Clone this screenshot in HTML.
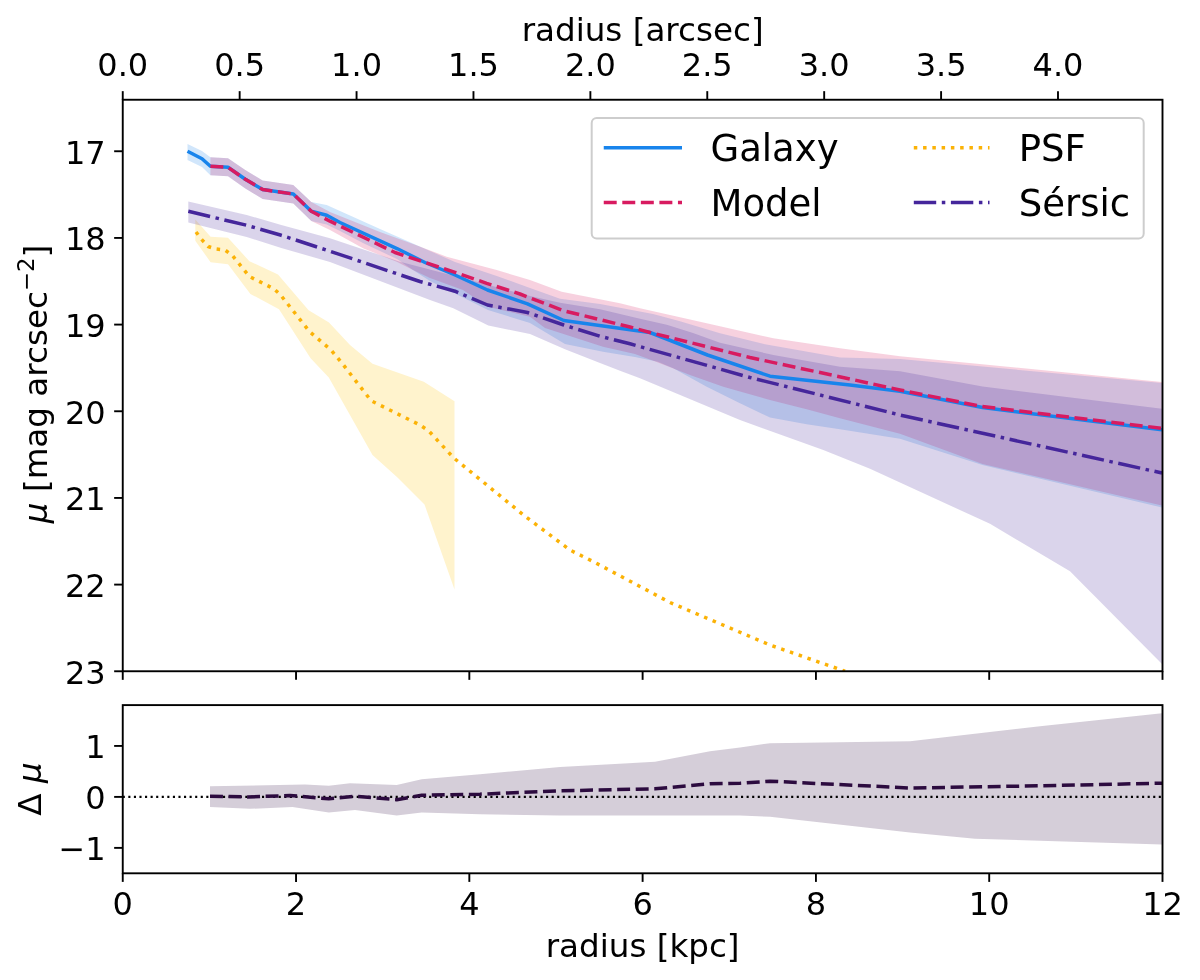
<!DOCTYPE html>
<html lang="en"><head><meta charset="utf-8"><title>Surface brightness profile</title>
<style>html,body{margin:0;padding:0;background:#fff}body{width:1200px;height:980px;overflow:hidden}svg{display:block}text{font-family:"DejaVu Sans","Liberation Sans",sans-serif;fill:#000}.it{font-family:"DejaVu Sans","Liberation Sans",sans-serif;font-style:italic}</style>
</head><body>
<svg width="1200" height="980" viewBox="0 0 1200 980">
<rect width="1200" height="980" fill="#fff"/>
<defs><clipPath id="ct"><rect x="122.75" y="99.75" width="1039.75" height="571.50"/></clipPath><clipPath id="cb"><rect x="122.75" y="705.10" width="1039.75" height="168.20"/></clipPath></defs>
<g clip-path="url(#ct)">
<polygon points="187.5,144.0 202.0,151.0 210.4,157.3 228.0,158.3 245.3,170.0 262.7,180.5 293.3,185.0 311.3,202.0 326.7,205.0 340.0,211.0 380.0,229.0 405.0,240.0 455.0,262.0 496.7,276.0 530.0,288.0 560.0,298.7 600.0,304.0 653.0,314.0 680.0,321.3 720.0,333.3 765.0,344.2 840.0,357.5 900.0,359.0 1162.0,383.0 1162.0,507.5 982.5,465.0 900.0,438.8 840.0,429.2 806.7,424.2 770.0,417.5 740.0,403.3 706.7,386.7 673.3,368.3 658.0,361.7 635.0,357.0 603.0,351.7 565.0,344.0 530.0,323.0 488.0,310.0 430.0,281.0 413.0,270.0 397.0,259.0 363.0,243.0 340.0,231.0 326.7,224.5 311.3,221.0 293.3,203.5 262.7,199.0 245.3,188.5 228.0,176.3 210.4,175.3 202.0,167.0 187.5,160.0" fill="#1884EC" fill-opacity="0.2"/>
<polygon points="210.4,157.3 228.0,158.3 245.3,170.0 262.7,180.5 293.3,185.0 311.3,202.0 330.0,212.0 380.0,232.0 413.0,244.0 446.7,256.7 496.7,270.0 530.0,280.0 561.7,291.7 620.0,303.3 640.0,308.3 706.7,323.3 773.3,338.3 840.0,348.3 900.0,356.2 1162.0,382.0 1162.0,505.5 982.5,464.0 900.0,433.8 840.0,418.3 806.7,409.2 770.0,400.0 723.3,386.7 690.0,375.0 656.7,362.0 635.0,354.0 603.0,346.7 545.0,328.0 530.0,316.7 488.0,306.7 463.0,290.0 430.0,278.0 413.0,270.0 396.7,261.7 363.0,248.3 330.0,230.0 311.3,221.0 293.3,203.5 262.7,199.0 245.3,188.5 228.0,176.3 210.4,175.3" fill="#D81B60" fill-opacity="0.2"/>
<polygon points="195.3,219.4 210.6,236.7 228.0,237.8 249.4,261.2 278.0,274.5 308.6,310.2 329.0,322.4 350.0,345.0 372.5,363.8 423.8,381.8 454.5,401.2 454.5,589.4 424.5,504.5 397.5,477.5 372.5,455.0 328.8,377.5 310.6,358.2 279.0,309.2 250.4,293.9 228.0,264.3 210.6,262.2 195.3,240.8" fill="#FFC107" fill-opacity="0.2"/>
<polygon points="188.3,201.5 246.7,215.0 281.3,225.0 330.0,238.3 400.0,261.7 463.3,278.3 530.0,296.0 560.0,302.7 600.0,309.3 640.0,318.7 666.7,324.7 693.0,333.0 720.0,342.7 773.3,355.0 840.0,366.7 900.0,371.2 982.5,386.5 1162.0,408.8 1162.0,664.0 1070.0,571.2 990.0,523.8 870.0,468.8 823.3,450.0 740.0,420.0 640.0,378.3 620.0,370.8 600.0,363.0 565.0,349.2 530.0,334.0 488.3,325.5 453.3,308.3 430.0,300.0 380.0,281.0 330.0,262.0 281.3,248.0 246.7,237.0 188.3,222.4" fill="#45269B" fill-opacity="0.2"/>
<polyline points="187.5,151.3 202.0,158.7 210.4,166.3 228.0,167.3 245.3,179.3 262.7,189.6 293.3,194.0 311.3,211.3 326.7,215.3 340.0,222.5 397.5,248.8 425.0,262.5 455.0,275.0 487.5,290.0 527.5,303.8 563.8,320.5 605.0,326.2 650.0,332.5 707.5,355.0 770.0,376.2 850.0,385.0 900.0,391.2 982.5,407.5 1162.0,429.7" fill="none" stroke="#1884EC" stroke-width="3.50" stroke-linejoin="round"/>
<polyline points="210.4,166.3 228.0,167.3 245.3,179.3 262.7,189.6 293.3,194.0 311.3,211.3 330.0,221.2 395.0,252.5 425.0,262.5 455.0,272.3 486.7,283.3 520.0,294.0 553.0,306.7 563.8,310.8 630.0,327.0 650.0,332.5 750.0,357.5 850.0,379.0 900.0,390.0 982.0,406.5 1162.0,428.3" fill="none" stroke="#D81B60" stroke-width="3.50" stroke-linejoin="round" stroke-dasharray="12.95 5.60"/>
<polyline points="196.0,232.0 201.4,239.2 208.2,246.5 215.7,249.0 225.0,250.0 232.0,255.1 249.4,276.5 273.9,288.8 280.0,294.3 309.6,331.6 331.0,350.0 342.5,363.8 371.2,400.8 420.0,425.0 428.8,431.0 453.8,458.0 525.0,516.2 570.0,550.0 595.0,562.5 670.0,602.5 770.0,645.0 845.0,671.2" fill="none" stroke="#FBB206" stroke-width="3.50" stroke-linejoin="round" stroke-dasharray="3.50 5.77"/>
<polyline points="188.3,211.3 246.7,225.3 281.3,235.3 330.0,251.2 420.0,281.5 455.0,291.2 487.5,305.0 527.5,312.5 563.8,325.0 600.0,336.2 630.0,343.8 750.0,377.5 900.0,415.0 1162.0,473.0" fill="none" stroke="#45269B" stroke-width="3.50" stroke-linejoin="round" stroke-dasharray="22.40 5.60 3.50 5.60"/>
</g>
<g clip-path="url(#cb)">
<polygon points="210.0,786.2 305.0,784.5 328.8,785.8 350.0,783.2 396.7,785.0 421.7,779.2 480.0,774.2 560.0,767.0 655.0,761.8 710.0,751.2 740.0,747.5 770.0,743.2 910.0,741.2 1040.0,726.2 1162.0,713.2 1162.0,844.5 1040.0,840.8 975.0,838.8 910.0,832.5 770.0,816.8 740.0,815.5 560.0,815.5 480.0,814.2 421.7,812.5 396.7,815.6 355.0,810.0 328.8,812.5 292.5,807.0 250.0,808.8 210.0,807.0" fill="#2C0B3F" fill-opacity="0.2"/>
<line x1="122.75" y1="796.90" x2="1162.50" y2="796.90" stroke="#000" stroke-width="2.1" stroke-dasharray="2.1 3.47"/>
<polyline points="210.0,796.2 247.5,797.0 290.0,795.5 328.8,798.8 355.0,796.2 396.7,799.7 421.7,795.3 480.0,794.2 560.0,790.8 655.0,788.8 710.0,783.8 740.0,783.2 770.0,781.2 910.0,788.0 1040.0,785.8 1162.0,783.2" fill="none" stroke="#2C0B3F" stroke-width="3.50" stroke-linejoin="round" stroke-dasharray="12.95 5.60"/>
</g>
<g fill="none" stroke="#000" stroke-width="1.90" stroke-linecap="square">
<rect x="122.75" y="99.75" width="1039.75" height="571.50"/>
<rect x="122.75" y="705.10" width="1039.75" height="168.20"/>
</g>
<g stroke="#000" stroke-width="1.90">
<line x1="122.75" y1="99.75" x2="122.75" y2="91.15"/>
<line x1="239.66" y1="99.75" x2="239.66" y2="91.15"/>
<line x1="356.56" y1="99.75" x2="356.56" y2="91.15"/>
<line x1="473.47" y1="99.75" x2="473.47" y2="91.15"/>
<line x1="590.37" y1="99.75" x2="590.37" y2="91.15"/>
<line x1="707.27" y1="99.75" x2="707.27" y2="91.15"/>
<line x1="824.18" y1="99.75" x2="824.18" y2="91.15"/>
<line x1="941.09" y1="99.75" x2="941.09" y2="91.15"/>
<line x1="1057.99" y1="99.75" x2="1057.99" y2="91.15"/>
<line x1="122.75" y1="671.25" x2="122.75" y2="679.85"/>
<line x1="122.75" y1="873.30" x2="122.75" y2="881.90"/>
<line x1="296.04" y1="671.25" x2="296.04" y2="679.85"/>
<line x1="296.04" y1="873.30" x2="296.04" y2="881.90"/>
<line x1="469.33" y1="671.25" x2="469.33" y2="679.85"/>
<line x1="469.33" y1="873.30" x2="469.33" y2="881.90"/>
<line x1="642.62" y1="671.25" x2="642.62" y2="679.85"/>
<line x1="642.62" y1="873.30" x2="642.62" y2="881.90"/>
<line x1="815.92" y1="671.25" x2="815.92" y2="679.85"/>
<line x1="815.92" y1="873.30" x2="815.92" y2="881.90"/>
<line x1="989.21" y1="671.25" x2="989.21" y2="679.85"/>
<line x1="989.21" y1="873.30" x2="989.21" y2="881.90"/>
<line x1="1162.50" y1="671.25" x2="1162.50" y2="679.85"/>
<line x1="1162.50" y1="873.30" x2="1162.50" y2="881.90"/>
<line x1="122.75" y1="151.25" x2="114.15" y2="151.25"/>
<line x1="122.75" y1="237.92" x2="114.15" y2="237.92"/>
<line x1="122.75" y1="324.59" x2="114.15" y2="324.59"/>
<line x1="122.75" y1="411.26" x2="114.15" y2="411.26"/>
<line x1="122.75" y1="497.93" x2="114.15" y2="497.93"/>
<line x1="122.75" y1="584.60" x2="114.15" y2="584.60"/>
<line x1="122.75" y1="671.27" x2="114.15" y2="671.27"/>
<line x1="122.75" y1="847.88" x2="114.15" y2="847.88"/>
<line x1="122.75" y1="796.90" x2="114.15" y2="796.90"/>
<line x1="122.75" y1="745.92" x2="114.15" y2="745.92"/>
</g>
<g font-size="32.0" text-anchor="middle">
<text x="122.75" y="76.2">0.0</text>
<text x="239.66" y="76.2">0.5</text>
<text x="356.56" y="76.2">1.0</text>
<text x="473.47" y="76.2">1.5</text>
<text x="590.37" y="76.2">2.0</text>
<text x="707.27" y="76.2">2.5</text>
<text x="824.18" y="76.2">3.0</text>
<text x="941.09" y="76.2">3.5</text>
<text x="1057.99" y="76.2">4.0</text>
<text x="122.75" y="915">0</text>
<text x="296.04" y="915">2</text>
<text x="469.33" y="915">4</text>
<text x="642.62" y="915">6</text>
<text x="815.92" y="915">8</text>
<text x="989.21" y="915">10</text>
<text x="1162.50" y="915">12</text>
</g>
<g font-size="32.0" text-anchor="end">
<text x="105.6" y="163.75">17</text>
<text x="105.6" y="250.42">18</text>
<text x="105.6" y="337.09">19</text>
<text x="105.6" y="423.76">20</text>
<text x="105.6" y="510.43">21</text>
<text x="105.6" y="597.10">22</text>
<text x="105.6" y="683.77">23</text>
<text x="105.6" y="758.32">1</text>
<text x="105.6" y="809.30">0</text>
<text x="105.6" y="860.28">−1</text>
</g>
<text x="642.62" y="41.4" font-size="32.6" text-anchor="middle">radius [arcsec]</text>
<text x="642.62" y="957" font-size="32.6" text-anchor="middle">radius [kpc]</text>
<text transform="translate(46.6 384.00) rotate(-90)" font-size="32.6" text-anchor="middle"><tspan class="it">μ</tspan> [mag arcsec<tspan font-size="22.8" dy="-12.5">−2</tspan><tspan dy="12.5">]</tspan></text>
<text transform="translate(41.3 789.00) rotate(-90)" font-size="32.6" text-anchor="middle">Δ <tspan class="it">μ</tspan></text>
<rect x="591.7" y="118" width="552" height="120.4" rx="5" ry="5" fill="#fff" fill-opacity="0.8" stroke="#cdcdcd" stroke-width="2"/>
<line x1="603.75" y1="147.8" x2="682" y2="147.8" stroke="#1884EC" stroke-width="3.50"/>
<line x1="603.75" y1="202.6" x2="682" y2="202.6" stroke="#D81B60" stroke-width="3.50" stroke-dasharray="12.95 5.60"/>
<line x1="913.8" y1="147.8" x2="989.5" y2="147.8" stroke="#FBB206" stroke-width="3.50" stroke-dasharray="3.50 5.77"/>
<line x1="913.8" y1="202.6" x2="989.5" y2="202.6" stroke="#45269B" stroke-width="3.50" stroke-dasharray="22.40 5.60 3.50 5.60"/>
<g font-size="37.0">
<text x="710.5" y="161.3">Galaxy</text>
<text x="710.5" y="216.3">Model</text>
<text x="1018.8" y="161.3">PSF</text>
<text x="1018.8" y="216.3">Sérsic</text>
</g>
</svg>
</body></html>
